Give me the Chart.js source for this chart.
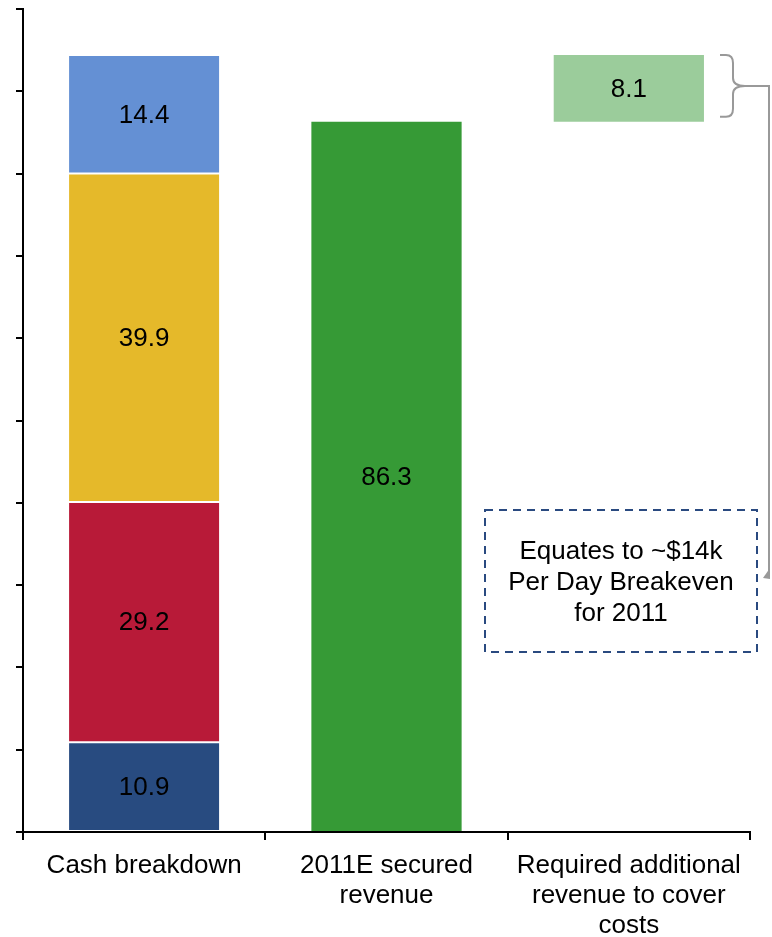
<!DOCTYPE html>
<html>
<head>
<meta charset="utf-8">
<script src="https://cdn.jsdelivr.net/npm/chart.js@4.4.1/dist/chart.umd.min.js"></script>
<style>
    html, body { margin: 0; padding: 0; background: #fff; }
    #wrap { width: 772px; height: 937px; }
</style>
</head>
<body>
<div id="wrap"><canvas id="breakevenChart" width="772" height="937"></canvas></div>
<script>
const categories = [
    'Cash breakdown',
    ['2011E secured', 'revenue'],
    ['Required additional', 'revenue to cover', 'costs']
];

// cash breakdown segments, bottom to top
const cashSegments = [10.9, 29.2, 39.9, 14.4];
const cashColors = ['#284b80', '#b81a38', '#e5b92a', '#6490d4'];

const securedRevenue = 86.3;
const requiredRevenue = 8.1;

const noteLines = ['Equates to ~$14k', 'Per Day Breakeven', 'for 2011'];

const FONT = '"Liberation Sans", Arial, sans-serif';

const datasets = cashSegments.map((v, i) => ({
    label: 'cash' + i,
    data: [v, null, null],
    backgroundColor: cashColors[i],
    borderColor: '#fff',
    borderWidth: { top: 1, bottom: 1 },
    borderSkipped: false
}));

datasets.push({
    label: 'secured',
    data: [null, securedRevenue, null],
    backgroundColor: '#369a36',
    borderWidth: 0
});

// invisible base so the required bar floats on top of secured revenue
datasets.push({
    label: 'base',
    data: [null, null, securedRevenue],
    backgroundColor: 'rgba(0,0,0,0)',
    borderWidth: 0,
    hideLabel: true
});

datasets.push({
    label: 'required',
    data: [null, null, requiredRevenue],
    backgroundColor: '#9bcc9b',
    borderWidth: 0
});

const barLabels = {
    id: 'barLabels',
    afterDatasetsDraw(chart) {
        const ctx = chart.ctx;
        ctx.save();
        ctx.font = '26px ' + FONT;
        ctx.fillStyle = '#000';
        ctx.textAlign = 'center';
        ctx.textBaseline = 'middle';
        chart.data.datasets.forEach((ds, di) => {
            if (ds.hideLabel) return;
            chart.getDatasetMeta(di).data.forEach((bar, i) => {
                const v = ds.data[i];
                if (v == null) return;
                const p = bar.getProps(['x', 'y', 'base'], true);
                ctx.fillText(v.toFixed(1), p.x, (p.y + p.base) / 2 + 1);
            });
        });
        ctx.restore();
    }
};

const noteCallout = {
    id: 'noteCallout',
    afterDraw(chart) {
        const ctx = chart.ctx;
        const y = chart.scales.y;
        const top = y.getPixelForValue(securedRevenue + requiredRevenue);
        const bottom = y.getPixelForValue(securedRevenue) - 5;
        const mid = (top + bottom) / 2;
        const bx = 720;

        ctx.save();
        // curly brace beside the required bar
        ctx.strokeStyle = '#999';
        ctx.lineWidth = 2;
        ctx.beginPath();
        ctx.moveTo(bx, top);
        ctx.lineTo(bx + 6, top);
        ctx.quadraticCurveTo(bx + 13, top, bx + 13, top + 8);
        ctx.lineTo(bx + 13, mid - 8);
        ctx.quadraticCurveTo(bx + 13, mid, bx + 25, mid);
        ctx.quadraticCurveTo(bx + 13, mid, bx + 13, mid + 8);
        ctx.lineTo(bx + 13, bottom - 8);
        ctx.quadraticCurveTo(bx + 13, bottom, bx + 6, bottom);
        ctx.lineTo(bx, bottom);
        ctx.stroke();

        // connector down to the note
        ctx.beginPath();
        ctx.moveTo(bx + 25, mid);
        ctx.lineTo(769, mid);
        ctx.lineTo(769, 571);
        ctx.stroke();
        ctx.fillStyle = '#999';
        ctx.beginPath();
        ctx.moveTo(770, 568);
        ctx.lineTo(770, 579);
        ctx.lineTo(763, 578);
        ctx.closePath();
        ctx.fill();

        // dashed note box
        ctx.strokeStyle = '#2a4a80';
        ctx.lineWidth = 2;
        ctx.setLineDash([8, 6]);
        ctx.strokeRect(485, 510, 272, 142);
        ctx.setLineDash([]);

        ctx.font = '26px ' + FONT;
        ctx.fillStyle = '#000';
        ctx.textAlign = 'center';
        ctx.textBaseline = 'middle';
        noteLines.forEach((t, i) => ctx.fillText(t, 621, 552 + i * 31));
        ctx.restore();
    }
};

new Chart(document.getElementById('breakevenChart'), {
    type: 'bar',
    data: { labels: categories, datasets: datasets },
    options: {
        responsive: false,
        animation: false,
        layout: { padding: { top: 9, right: 22, left: 0, bottom: 0 } },
        datasets: {
            bar: { categoryPercentage: 1, barPercentage: 0.62 }
        },
        scales: {
            x: {
                stacked: true,
                afterFit: (scale) => { scale.height = 105; },
                border: { display: true, color: '#000', width: 2 },
                grid: {
                    display: true,
                    drawOnChartArea: false,
                    drawTicks: true,
                    tickLength: 8,
                    tickColor: '#000',
                    lineWidth: 2,
                    offset: true
                },
                ticks: {
                    color: '#000',
                    padding: 11,
                    font: { family: FONT, size: 26, lineHeight: 1.15 },
                    maxRotation: 0,
                    autoSkip: false
                }
            },
            y: {
                stacked: true,
                min: 0,
                max: 100,
                afterFit: (scale) => { scale.width = 23; },
                border: { display: true, color: '#000', width: 2 },
                grid: {
                    display: true,
                    drawOnChartArea: false,
                    drawTicks: true,
                    tickLength: 7,
                    tickColor: '#000',
                    lineWidth: 2
                },
                ticks: { display: false, stepSize: 10 }
            }
        },
        plugins: {
            legend: { display: false },
            tooltip: { enabled: false }
        }
    },
    plugins: [barLabels, noteCallout]
});
</script>
</body>
</html>
